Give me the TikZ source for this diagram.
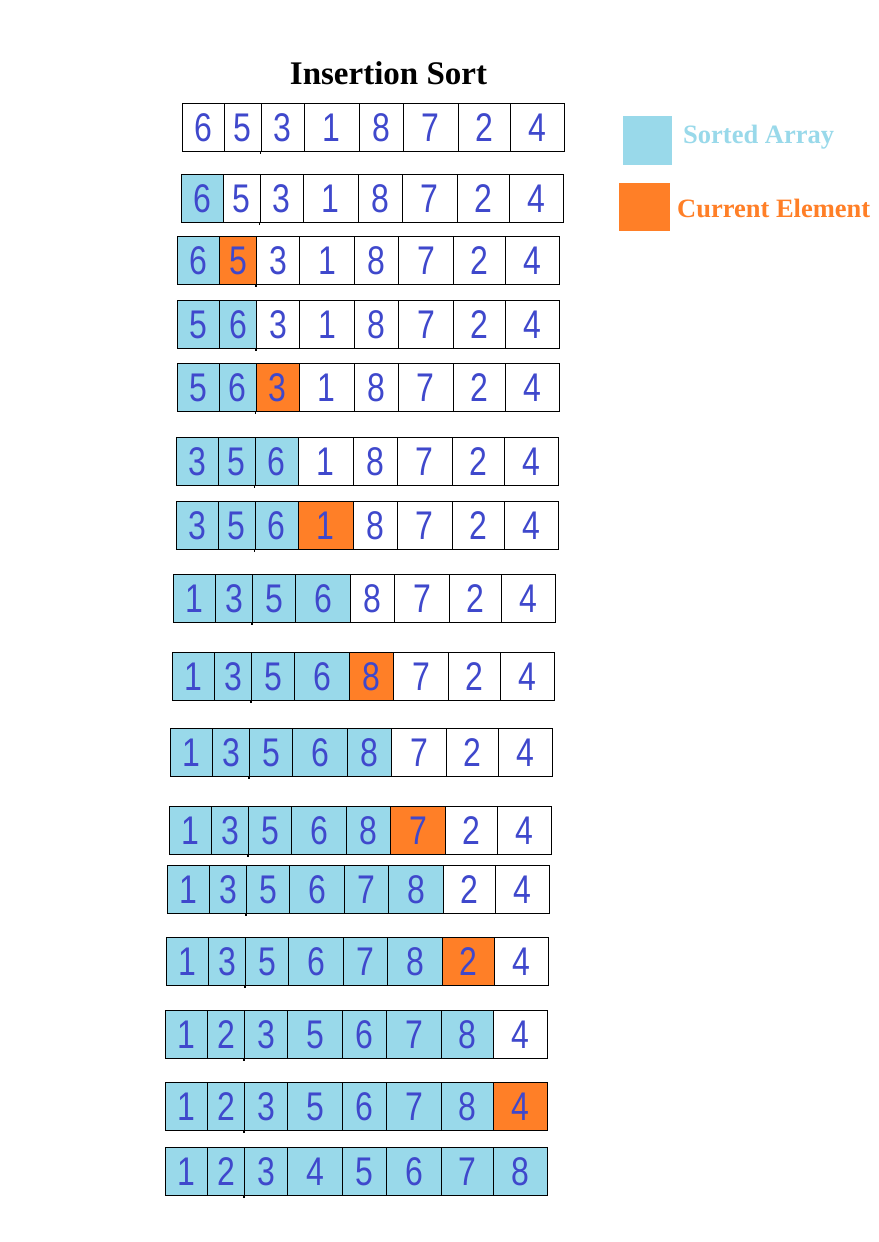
\documentclass[tikz,border=0pt]{standalone}
\usepackage{fontspec}
\setmainfont{Liberation Serif}
\newfontfamily\digitfont[FakeStretch=0.8]{Liberation Sans}
\definecolor{sortblue}{HTML}{99D9EA}
\definecolor{curorange}{HTML}{FF7F27}
\definecolor{digitblue}{HTML}{3F48CC}
\colorlet{cellc0}{white}
\colorlet{cellc1}{sortblue}
\colorlet{cellc2}{curorange}
\begin{document}
\begin{tikzpicture}[x=1pt,y=-1pt,
  cell/.style={draw=black, line width=1.3pt, inner sep=0pt, minimum height=48pt,
    text=digitblue, font=\digitfont\fontsize{40}{40}\selectfont, anchor=north west},
  tickline/.style={draw=black, line width=1.3pt},
  legendbox/.style={draw=none, inner sep=0pt, anchor=north west},
  legendtext/.style={font=\bfseries\fontsize{26.5}{26.5}\selectfont, anchor=base west, inner sep=0pt},
  titletext/.style={font=\bfseries\fontsize{33}{33}\selectfont, anchor=base, inner sep=0pt}]
\useasboundingbox[fill=white] (0,0) rectangle (878,1242);

\node[titletext] (title) at (388.5,84) {Insertion Sort};

\foreach \r/\ty/\lx/\digs/\nb/\orr in {
 1/103/181.5/{6,5,3,1,8,7,2,4}/0/0,
 2/174/180.7/{6,5,3,1,8,7,2,4}/1/0,
 3/236/177/{6,5,3,1,8,7,2,4}/1/2,
 4/300/177/{5,6,3,1,8,7,2,4}/2/0,
 5/363/176.5/{5,6,3,1,8,7,2,4}/2/3,
 6/437/175.7/{3,5,6,1,8,7,2,4}/3/0,
 7/501/175.5/{3,5,6,1,8,7,2,4}/3/4,
 8/574/173/{1,3,5,6,8,7,2,4}/4/0,
 9/652/172/{1,3,5,6,8,7,2,4}/4/5,
 10/728/170/{1,3,5,6,8,7,2,4}/5/0,
 11/806/169/{1,3,5,6,8,7,2,4}/5/6,
 12/865/167/{1,3,5,6,7,8,2,4}/6/0,
 13/937/166/{1,3,5,6,7,8,2,4}/6/7,
 14/1010/165/{1,2,3,5,6,7,8,4}/7/0,
 15/1082/165/{1,2,3,5,6,7,8,4}/7/8,
 16/1147/165/{1,2,3,4,5,6,7,8}/8/0}
{
  \foreach \dg [count=\c] in \digs {
    \pgfmathsetmacro\xa{{0,42,79,122,177,221,276,328,382}[\c-1]}
    \pgfmathsetmacro\xb{{0,42,79,122,177,221,276,328,382}[\c]}
    \pgfmathtruncatemacro\ci{(\c<=\nb) ? 1 : ((\c==\orr) ? 2 : 0)}
    \node[cell, fill=cellc\ci, minimum width={\xb-\xa}] (r\r-\c) at (\lx+\xa,\ty) {\dg};
  }
  \coordinate (t\r) at (\lx+79,\ty+51);
  \draw[tickline] (r\r-3.south west) -- (t\r);
}

\node[legendbox, fill=sortblue, minimum width=49pt, minimum height=49pt] (lblue) at (623,116) {};
\node[legendtext, text=sortblue] (lbluetext) at (683,143) {Sorted Array};
\node[legendbox, fill=curorange, minimum width=51pt, minimum height=48pt] (lorange) at (619,183) {};
\node[legendtext, text=curorange] (lorangetext) at (677,217) {Current Element};
\end{tikzpicture}
\end{document}
